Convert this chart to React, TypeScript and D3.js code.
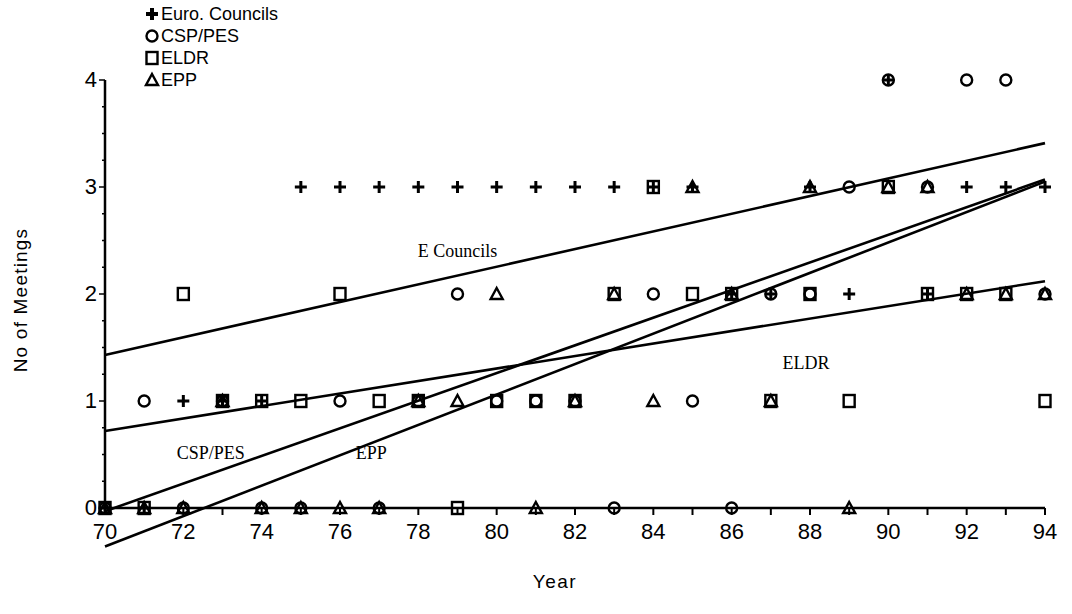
import React, { useEffect, useRef } from 'react';
import * as d3 from 'd3';

// Years 1970-1994
const years = d3.range(70, 95);

// Meetings per year
const euroCouncils = [0, 0, 1, 1, 1, 3, 3, 3, 3, 3, 3, 3, 3, 3, 3, 3, 2, 2, 3, 2, 4, 2, 3, 3, 3];
const cspPes = [0, 1, 0, 1, 0, 0, 1, 0, 1, 2, 1, 1, 1, 0, 2, 1, 0, 2, 2, 3, 4, 3, 4, 4, 2];
const eldr = [0, 0, 2, 1, 1, 1, 2, 1, 1, 0, 1, 1, 1, 2, 3, 2, 2, 1, 2, 1, 3, 2, 2, 2, 1];
const epp = [0, 0, 0, 1, 0, 0, 0, 0, 1, 1, 2, 0, 1, 2, 1, 3, 2, 1, 3, 0, 3, 3, 2, 2, 2];

// Fitted trend lines: value at 1970 and at 1994
const trendNames = ['E Councils', 'ELDR', 'CSP/PES', 'EPP'];
const trendStart = [1.43, 0.72, -0.03, -0.36];
const trendEnd = [3.41, 2.12, 3.07, 3.05];

const legendNames = ['Euro. Councils', 'CSP/PES', 'ELDR', 'EPP'];
const xTicks = d3.range(70, 95, 2);
const yTicks = [0, 1, 2, 3, 4];

function App() {
  const svgRef = useRef<SVGSVGElement>(null);

  useEffect(() => {
    const width = 1072;
    const height = 614;
    const svg = d3.select(svgRef.current).attr('width', width).attr('height', height);
    svg.selectAll('*').remove();

    const x = d3.scaleLinear().domain([70, 94]).range([105, 1045]);
    const y = d3.scaleLinear().domain([0, 4]).range([508, 80]);
    const sans = 'Liberation Sans, Arial, sans-serif';
    const serif = 'Liberation Serif, Times New Roman, serif';

    // marker drawing helper
    const drawMarker = (g: any, kind: string, cx: number, cy: number, legend = false) => {
      if (kind === 'plus') {
        const s = 6;
        g.append('path')
          .attr('d', `M${cx - s},${cy}H${cx + s}M${cx},${cy - s}V${cy + s}`)
          .attr('stroke', '#000')
          .attr('stroke-width', legend ? 4 : 3);
      } else if (kind === 'circle') {
        g.append('circle').attr('cx', cx).attr('cy', cy).attr('r', 5.5)
          .attr('fill', 'none').attr('stroke', '#000').attr('stroke-width', 2.4);
      } else if (kind === 'square') {
        g.append('rect').attr('x', cx - 5.5).attr('y', cy - 6).attr('width', 11).attr('height', 12)
          .attr('fill', 'none').attr('stroke', '#000').attr('stroke-width', 2.4);
      } else {
        g.append('path')
          .attr('d', `M${cx},${cy - 6}L${cx + 6},${cy + 5}L${cx - 6},${cy + 5}Z`)
          .attr('fill', 'none').attr('stroke', '#000').attr('stroke-width', 2.4);
      }
    };

    // Axes
    svg.append('line')
      .attr('x1', x(70)).attr('x2', x(70)).attr('y1', y(4)).attr('y2', y(0))
      .attr('stroke', '#000').attr('stroke-width', 2.5);
    svg.append('line')
      .attr('x1', x(70)).attr('x2', x(94)).attr('y1', y(0)).attr('y2', y(0))
      .attr('stroke', '#000').attr('stroke-width', 2.5);

    svg.selectAll('.xtick')
      .data(years)
      .join('line')
      .attr('x1', d => x(d)).attr('x2', d => x(d))
      .attr('y1', y(0)).attr('y2', y(0) + 7)
      .attr('stroke', '#000').attr('stroke-width', 2);

    svg.selectAll('.xlabel')
      .data(xTicks)
      .join('text')
      .attr('x', d => x(d)).attr('y', y(0) + 31)
      .attr('text-anchor', 'middle')
      .attr('font-family', sans).attr('font-size', 22)
      .text(d => d);

    svg.selectAll('.ytick')
      .data(d3.range(0, 4.01, 0.25))
      .join('line')
      .attr('x1', x(70)).attr('x2', d => x(70) - (d % 1 === 0 ? 6 : 3))
      .attr('y1', d => y(d)).attr('y2', d => y(d))
      .attr('stroke', '#000').attr('stroke-width', 1.5);

    svg.selectAll('.ylabel')
      .data(yTicks)
      .join('text')
      .attr('x', x(70) - 8).attr('y', d => y(d) + 7)
      .attr('text-anchor', 'end')
      .attr('font-family', sans).attr('font-size', 22)
      .text(d => d);

    svg.append('text')
      .attr('x', 555).attr('y', 588)
      .attr('text-anchor', 'middle')
      .attr('font-family', sans).attr('font-size', 19).attr('letter-spacing', 1.5)
      .text('Year');

    svg.append('text')
      .attr('transform', 'translate(27,300) rotate(-90)')
      .attr('text-anchor', 'middle')
      .attr('font-family', sans).attr('font-size', 19).attr('letter-spacing', 1.2)
      .text('No  of Meetings');

    // Trend lines
    const line = d3.line<[number, number]>().x(d => x(d[0])).y(d => y(d[1]));
    trendNames.forEach((name, i) => {
      svg.append('path')
        .datum([[70, trendStart[i]], [94, trendEnd[i]]] as [number, number][])
        .attr('fill', 'none')
        .attr('stroke', '#000')
        .attr('stroke-width', 2.6)
        .attr('d', line);
    });

    // Trend line labels
    const labelPos: [number, number][] = [[79.0, 2.35], [87.9, 1.3], [72.7, 0.46], [76.8, 0.46]];
    trendNames.forEach((name, i) => {
      svg.append('text')
        .attr('x', x(labelPos[i][0])).attr('y', y(labelPos[i][1]))
        .attr('text-anchor', 'middle')
        .attr('font-family', serif).attr('font-size', 18)
        .text(name);
    });

    // Points
    const series: [string, number[]][] = [
      ['plus', euroCouncils],
      ['circle', cspPes],
      ['square', eldr],
      ['triangle', epp],
    ];
    const pts = svg.append('g');
    series.forEach(([kind, values]) => {
      values.forEach((v, i) => drawMarker(pts, kind, x(years[i]), y(v)));
    });

    // Legend
    const legend = svg.append('g');
    const kinds = ['plus', 'circle', 'square', 'triangle'];
    legendNames.forEach((name, i) => {
      const ly = 14 + i * 22;
      drawMarker(legend, kinds[i], 152, ly, true);
      legend.append('text')
        .attr('x', 161).attr('y', ly + 6)
        .attr('font-family', sans).attr('font-size', 18)
        .text(name);
    });
  }, []);

  return <svg ref={svgRef} style={{ position: 'absolute', left: 0, top: 0, background: '#fff' }} />;
}

export default App;
